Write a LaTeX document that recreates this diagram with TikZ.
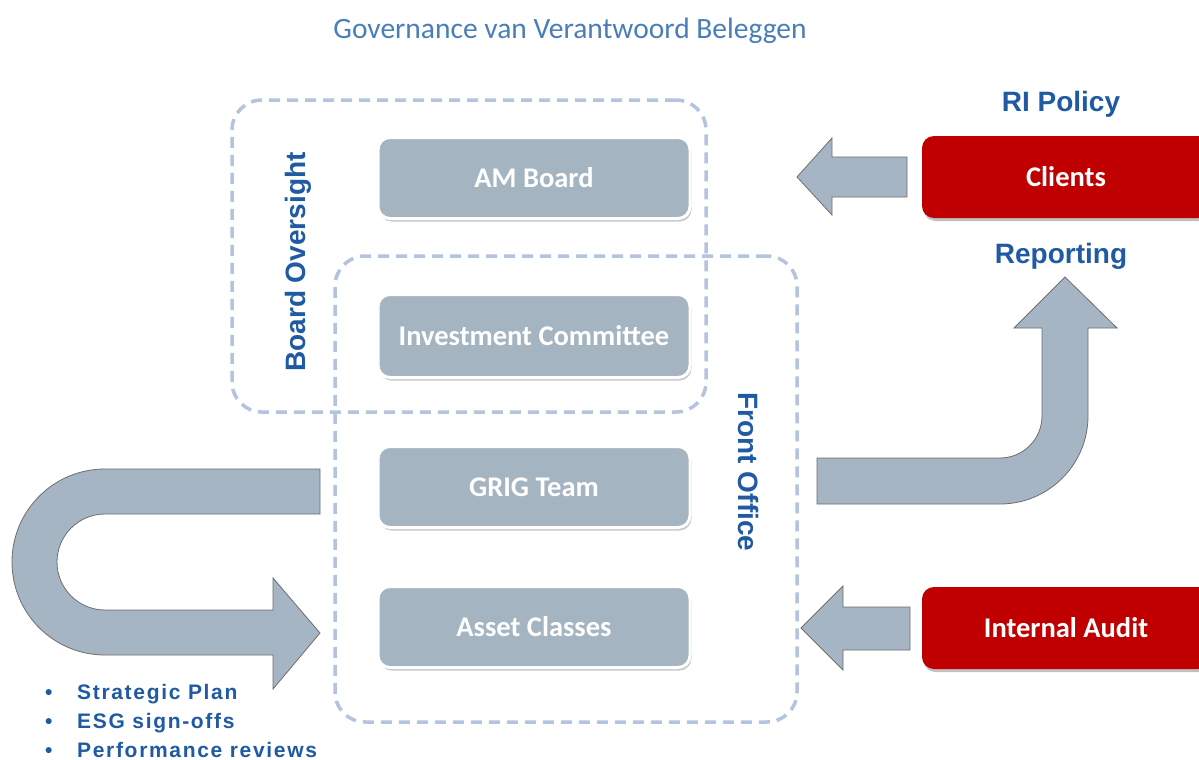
\documentclass[tikz,border=0pt]{standalone}
\usepackage{fontspec}
\setmainfont{Carlito}
\newfontfamily\arialf{Liberation Sans}
\newfontfamily\bulletf{Liberation Sans}[LetterSpace=8]
\usetikzlibrary{shadows}
\definecolor{boxgray}{HTML}{A5B4C1}
\definecolor{arrowgray}{HTML}{A6B5C3}
\definecolor{edgegray}{HTML}{6E6E6E}
\definecolor{dashblue}{HTML}{B4C3DE}
\definecolor{labelblue}{HTML}{1F5AA3}
\definecolor{titleblue}{HTML}{4A7EBB}
\definecolor{redbox}{HTML}{C00000}
\tikzset{
  graybox/.style={draw=white, line width=3pt, fill=boxgray, rounded corners=12pt,
    minimum width=312pt, minimum height=81pt, text=white,
    font=\bfseries\fontsize{28.5}{31}\selectfont,
    drop shadow={shadow xshift=1.5pt, shadow yshift=-3pt, opacity=0.3, fill=black!70}},
  redbx/.style={fill=redbox, rounded corners=12pt, minimum width=288pt, minimum height=82pt,
    text=white, font=\bfseries\fontsize{28.5}{31}\selectfont,
    drop shadow={shadow xshift=1.5pt, shadow yshift=-3pt, opacity=0.35, fill=black!70}},
  dashbox/.style={draw=dashblue, line width=3.5pt, dash pattern=on 11pt off 7pt,
    rounded corners=30pt},
  blockarrow/.style={fill=arrowgray, draw=edgegray, line width=0.8pt, line join=miter},
  bluelabel/.style={text=labelblue, font=\arialf\bfseries\fontsize{28}{32}\selectfont},
}
\begin{document}
\begin{tikzpicture}[x=1pt,y=-1pt]
\useasboundingbox (0,0) rectangle (1199,760);
\fill[white] (0,0) rectangle (1199,760);

\node[text=titleblue, font=\fontsize{29.5}{33}\selectfont] (title) at (570,31) {Governance van Verantwoord Beleggen};

% dashed group boxes
\node[dashbox, minimum width=474pt, minimum height=312pt] (board) at (469,256) {};
\node[dashbox, minimum width=462pt, minimum height=466pt] (front) at (566,489) {};

% gray boxes
\node[graybox] (amboard) at (534,178) {AM Board};
\node[graybox, minimum height=83pt] (invcom) at (534,336) {Investment Committee};
\node[graybox] (grig) at (534,487) {GRIG Team};
\node[graybox] (asset) at (534,627) {Asset Classes};

% red boxes
\node[redbx] (clients) at (1066,177) {Clients};
\node[redbx] (audit) at (1066,628) {Internal Audit};

% labels
\node[bluelabel] (ripolicy) at (1061,104) {RI Policy};
\node[bluelabel] (reporting) at (1061,256) {Reporting};
\node[bluelabel, rotate=90] (boardlabel) at (298,262) {Board Oversight};
\node[bluelabel, rotate=-90] (frontlabel) at (748,472) {Front Office};

% block arrows
\draw[blockarrow] (907,157) -- (832,157) -- (832,138) -- (797,177) -- (832,215) -- (832,197) -- (907,197) -- cycle;
\draw[blockarrow] (910,607) -- (843,607) -- (843,586) -- (801,628) -- (843,670) -- (843,650) -- (910,650) -- cycle;
\draw[blockarrow] (817,458) -- (1000,458)
  .. controls (1023.2,458) and (1042,439.2) .. (1042,416)
  -- (1042,328) -- (1014,328) -- (1065,277) -- (1117,328) -- (1088,328) -- (1088,416)
  .. controls (1088,464.6) and (1048.6,504) .. (1000,504)
  -- (817,504) -- cycle;
\draw[blockarrow] (320,469) -- (105,469)
  .. controls (53.6,469) and (12,510.6) .. (12,562)
  .. controls (12,613.4) and (53.6,655) .. (105,655)
  -- (273,655) -- (273,689) -- (320,633) -- (273,578) -- (273,610) -- (105,610)
  .. controls (78.5,610) and (57,588.5) .. (57,562)
  .. controls (57,535.5) and (78.5,514) .. (105,514)
  -- (320,514) -- cycle;

% bullet list
\node[anchor=north west, text=labelblue, align=left, inner sep=0pt,
  font=\bulletf\bfseries\fontsize{21}{29}\selectfont] (bullets) at (45,684)
  {\makebox[32pt][l]{•}Strategic Plan\\ \makebox[32pt][l]{•}ESG sign-offs\\ \makebox[32pt][l]{•}Performance reviews};
\end{tikzpicture}
\end{document}
